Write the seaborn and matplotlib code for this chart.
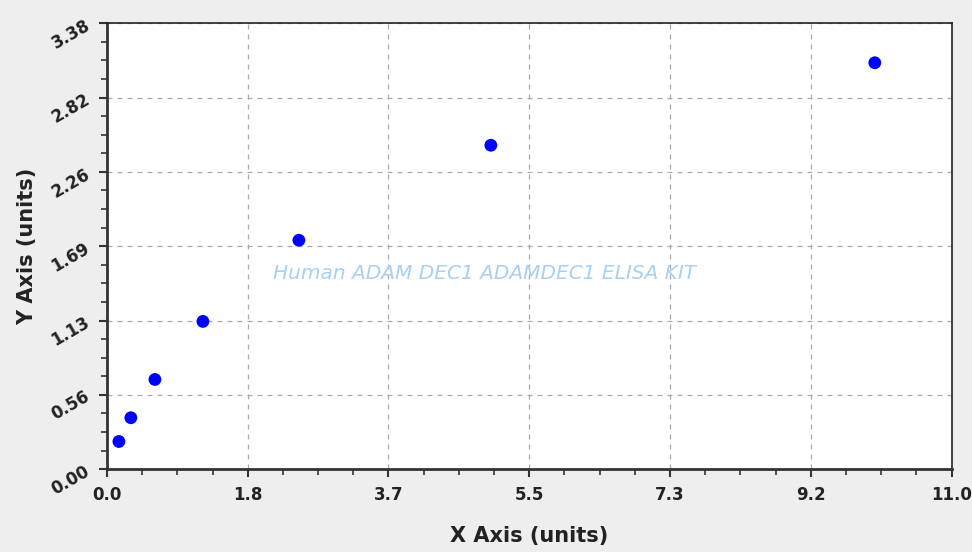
import numpy as np
import pandas as pd
import matplotlib
matplotlib.use("Agg")
import matplotlib.pyplot as plt
import seaborn as sns
from matplotlib.ticker import AutoMinorLocator

# standard curve points
conc = [0.156, 0.312, 0.625, 1.25, 2.5, 5.0, 10.0]
od = [0.21, 0.39, 0.68, 1.12, 1.735, 2.455, 3.08]

x_ticks = [0.0, 1.8, 3.7, 5.5, 7.3, 9.2, 11.0]
y_ticks = [0.00, 0.56, 1.13, 1.69, 2.26, 2.82, 3.38]

df = pd.DataFrame({"x": conc, "y": od})

sns.set_style("white")
plt.rcParams['font.family'] = ['DejaVu Sans']

fig = plt.figure(figsize=(9.72, 5.52), dpi=100, facecolor='#eeeeee')
ax = fig.add_axes([0.110, 0.150, 0.869, 0.808])
ax.set_facecolor('white')

sns.scatterplot(data=df, x='x', y='y', ax=ax, color='#0000ff', s=85,
                edgecolor='none', zorder=3)

ax.set_xlim(0, 11.0)
ax.set_ylim(0, 3.38)
ax.set_xticks(np.linspace(0, 11.0, 7))
ax.set_yticks(np.linspace(0, 3.38, 7))
ax.set_xticklabels([f"{v:.1f}" for v in x_ticks], fontsize=12, fontweight='bold', color='#222222')
ax.set_yticklabels([f"{v:.2f}" for v in y_ticks], fontsize=12, fontweight='bold', color='#222222',
                   rotation=30)
ax.xaxis.set_minor_locator(AutoMinorLocator(4))
ax.yaxis.set_minor_locator(AutoMinorLocator(4))
ax.tick_params(which='major', direction='out', length=6, width=1.5, color='#333333')
ax.tick_params(which='minor', direction='out', length=4, width=1.2, color='#333333')
ax.tick_params(axis='x', which='both', bottom=True)
ax.tick_params(axis='y', which='both', left=True)
ax.tick_params(axis='x', which='major', pad=6)
ax.tick_params(axis='y', which='major', pad=4)

ax.grid(True, which='major', linestyle=(0, (4, 4)), color='#aaaaaa', linewidth=0.9)

for side in ['left', 'bottom']:
    ax.spines[side].set_linewidth(2.0)
    ax.spines[side].set_color('#333333')
for side in ['top', 'right']:
    ax.spines[side].set_linewidth(1.2)
    ax.spines[side].set_color('#222222')

ax.set_xlabel('X Axis (units)', fontsize=15, fontweight='bold', color='#222222', labelpad=16)
ax.set_ylabel('Y Axis (units)', fontsize=15, fontweight='bold', color='#222222', labelpad=8)

ax.text(0.447, 0.438, 'Human ADAM DEC1 ADAMDEC1 ELISA KIT', transform=ax.transAxes,
        ha='center', va='center', fontsize=14.5, style='italic', color='#a8d0f0', zorder=2)

fig.savefig('out.png', dpi=100, facecolor=fig.get_facecolor())
